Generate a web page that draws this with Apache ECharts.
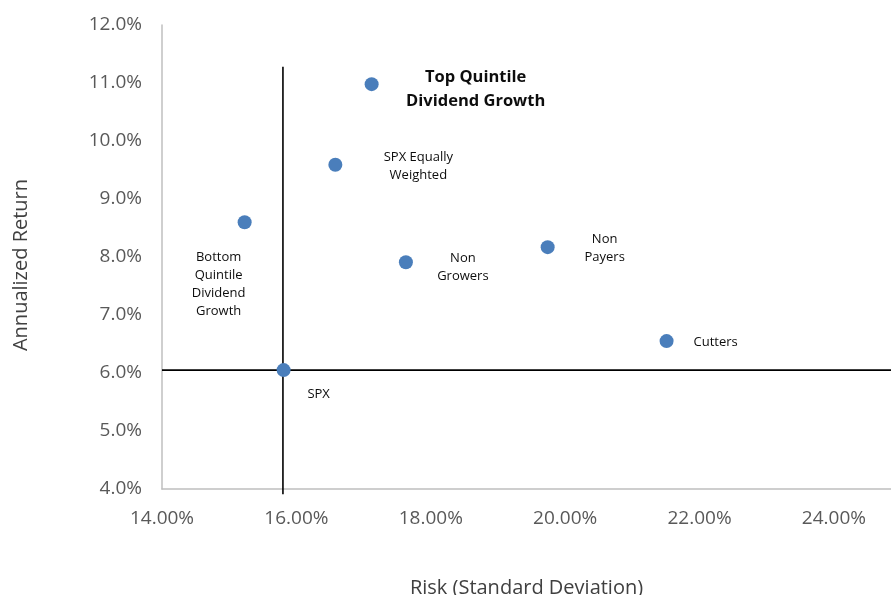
<!DOCTYPE html>
<html>
<head>
<meta charset="utf-8">
<script src="https://cdn.jsdelivr.net/npm/echarts@6/dist/echarts.min.js"></script>
<style>
  html, body { margin: 0; padding: 0; background: #fff; }
  #chart { width: 891px; height: 595px; }
</style>
</head>
<body>
<div id="chart"></div>
<script>
// Risk / return of dividend-growth buckets (values in percent)
const names = [
  'Top Quintile\nDividend Growth',
  'SPX Equally\nWeighted',
  'Bottom\nQuintile\nDividend\nGrowth',
  'Non\nGrowers',
  'Non\nPayers',
  'Cutters',
  'SPX'
];
const risk = [17.12, 16.58, 15.23, 17.63, 19.74, 21.51, 15.81];
const annualReturn = [10.98, 9.59, 8.60, 7.91, 8.17, 6.55, 6.05];

// SPX reference crosshair (vertical and horizontal segments)
const crossVertical = [[15.80, 3.91], [15.80, 11.28]];
const crossHorizontal = [[14, 6.05], [24.85, 6.05]];

// label placement per point (offset from the marker centre, px)
const labelStyle = [
  { offset: [104, 5], fontSize: 16.5, fontWeight: 'bold', lineHeight: 24 },
  { offset: [83, 2], fontSize: 13, lineHeight: 18 },
  { offset: [-26, 62], fontSize: 13, lineHeight: 18 },
  { offset: [57, 5], fontSize: 13, lineHeight: 18 },
  { offset: [57, 1], fontSize: 13, lineHeight: 18 },
  { offset: [49, 1], fontSize: 13, lineHeight: 18 },
  { offset: [35, 24], fontSize: 13, lineHeight: 18 }
];

const points = names.map((n, i) => ({
  value: [risk[i], annualReturn[i]],
  name: n,
  label: Object.assign({
    show: true,
    position: 'inside',
    align: 'center',
    verticalAlign: 'middle',
    color: '#0d0d0d',
    fontFamily: 'Open Sans, sans-serif',
    formatter: '{b}'
  }, labelStyle[i])
}));

const crossLine = data => ({
  type: 'line',
  clip: false,
  silent: true,
  symbol: 'none',
  z: 1,
  lineStyle: { color: '#000000', width: 1.6 },
  data: data
});

const chart = echarts.init(document.getElementById('chart'));
chart.setOption({
  backgroundColor: '#ffffff',
  animation: false,
  grid: {
    left: 162, top: 25, right: 0, bottom: 106,
    containLabel: false,
    outerBoundsMode: 'none'
  },
  xAxis: {
    type: 'value',
    min: 14,
    max: 24.85,
    interval: 2,
    name: 'Risk (Standard Deviation)',
    nameLocation: 'middle',
    nameGap: 89,
    nameTextStyle: { fontFamily: 'Open Sans, sans-serif', fontSize: 20, color: '#404040' },
    axisLine: { show: true, lineStyle: { color: '#bfbfbf', width: 1.5 } },
    axisTick: { show: false },
    splitLine: { show: false },
    axisLabel: {
      margin: 20,
      showMaxLabel: false,
      color: '#595959',
      fontFamily: 'Open Sans, sans-serif',
      fontSize: 19,
      formatter: v => v.toFixed(2) + '%'
    }
  },
  yAxis: {
    type: 'value',
    min: 4,
    max: 12,
    interval: 1,
    name: 'Annualized Return',
    nameLocation: 'middle',
    nameGap: 131,
    nameRotate: 90,
    nameTextStyle: {
      fontFamily: 'Open Sans, sans-serif',
      fontSize: 20,
      color: '#404040',
      padding: [0, 16, 0, 0]
    },
    axisLine: { show: true, lineStyle: { color: '#bfbfbf', width: 1.5 } },
    axisTick: { show: false },
    splitLine: { show: false },
    axisLabel: {
      margin: 20,
      color: '#595959',
      fontFamily: 'Open Sans, sans-serif',
      fontSize: 19,
      formatter: v => v.toFixed(1) + '%'
    }
  },
  series: [
    crossLine(crossVertical),
    crossLine(crossHorizontal),
    {
      type: 'scatter',
      clip: false,
      z: 3,
      symbolSize: 14,
      itemStyle: { color: '#4a7ebb', opacity: 1 },
      data: points
    }
  ]
});
</script>
</body>
</html>
